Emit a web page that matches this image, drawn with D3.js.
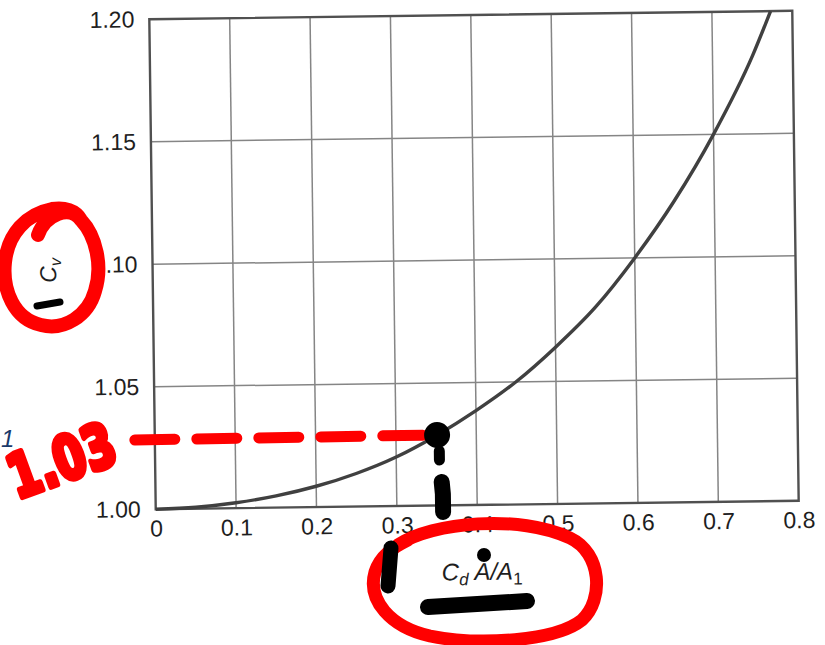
<!DOCTYPE html>
<html>
<head>
<meta charset="utf-8">
<script src="https://cdn.jsdelivr.net/npm/d3@7/dist/d3.min.js"></script>
<style>
  html, body { margin: 0; padding: 0; background: #fff; }
  svg { display: block; }
  .tick text { font-family: "Liberation Sans", Arial, sans-serif; }
</style>
</head>
<body>
<svg id="chart" width="825" height="645"></svg>
<script>
// Velocity-of-approach factor Cv versus area ratio Cd·A/A1
const ratio = [0, 0.05, 0.1, 0.15, 0.2, 0.25, 0.3, 0.35, 0.4, 0.45, 0.5, 0.55, 0.6, 0.65, 0.7, 0.75, 0.773];
const cv    = [1.000, 1.0006, 1.0022, 1.0048, 1.0085, 1.0135, 1.0200, 1.0285, 1.0385, 1.0500, 1.0640, 1.0800, 1.1000, 1.1230, 1.1500, 1.1820, 1.2000];
const xTicks = [0, 0.1, 0.2, 0.3, 0.4, 0.5, 0.6, 0.7, 0.8];
const xTickLabels = ["0", "0.1", "0.2", "0.3", "0.4", "0.5", "0.6", "0.7", "0.8"];
const yTicks = [1.00, 1.05, 1.10, 1.15, 1.20];
const yTickLabels = ["1.00", "1.05", "1.10", "1.15", "1.20"];
// marked reading on the curve
const readX = [0.35];
const readY = [1.03];
const readLabel = ["1.03"];

const svg = d3.select("#chart");
const plotL = 152.5, plotR = 795.5, plotT = 15, plotB = 505;
const cx = (plotL + plotR) / 2, cy = (plotT + plotB) / 2;

const x = d3.scaleLinear().domain([0, 0.8]).range([plotL, plotR]);
const y = d3.scaleLinear().domain([1.00, 1.20]).range([plotB, plotT]);

// the printed sheet sits slightly askew
const page = svg.append("g").attr("transform", `rotate(-0.75,${cx},${cy})`);

// grid
page.append("g").selectAll("line").data(xTicks.slice(1, -1)).join("line")
  .attr("x1", d => x(d)).attr("x2", d => x(d))
  .attr("y1", plotT).attr("y2", plotB)
  .attr("stroke", "#858585").attr("stroke-width", 1.5);
page.append("g").selectAll("line").data(yTicks.slice(1, -1)).join("line")
  .attr("x1", plotL).attr("x2", plotR)
  .attr("y1", d => y(d)).attr("y2", d => y(d))
  .attr("stroke", "#858585").attr("stroke-width", 1.5);

// frame
page.append("rect")
  .attr("x", plotL).attr("y", plotT)
  .attr("width", plotR - plotL).attr("height", plotB - plotT)
  .attr("fill", "none").attr("stroke", "#505050").attr("stroke-width", 2.4);

// axes (labels only)
const xAxis = page.append("g")
  .attr("transform", `translate(0,${plotB})`)
  .call(d3.axisBottom(x).tickValues(xTicks).tickSize(0).tickPadding(11)
    .tickFormat((d, i) => xTickLabels[i]));
xAxis.select(".domain").remove();
xAxis.selectAll("text").attr("font-size", 23).attr("fill", "#1e1e1e");

const yAxis = page.append("g")
  .attr("transform", `translate(${plotL},0)`)
  .call(d3.axisLeft(y).tickValues(yTicks).tickSize(0).tickPadding(15)
    .tickFormat((d, i) => yTickLabels[i]));
yAxis.select(".domain").remove();
yAxis.selectAll("text").attr("font-size", 23).attr("fill", "#1e1e1e");

// curve
const line = d3.line().x((d, i) => x(ratio[i])).y(d => y(d)).curve(d3.curveMonotoneX);
page.append("path")
  .datum(cv)
  .attr("d", line)
  .attr("fill", "none")
  .attr("stroke", "#404040")
  .attr("stroke-width", 3.4);

// axis titles
const fam = "'Liberation Sans', Arial, sans-serif";
const yt = page.append("text")
  .attr("transform", "translate(56,265) rotate(-90)")
  .attr("text-anchor", "middle")
  .attr("font-family", fam).attr("font-style", "italic")
  .attr("font-size", 23).attr("fill", "#1e1e1e");
yt.append("tspan").text("C");
yt.append("tspan").attr("font-size", 16).attr("dy", 5).text("v");

const xt = page.append("text")
  .attr("x", 478).attr("y", 580)
  .attr("text-anchor", "middle")
  .attr("font-family", fam).attr("font-style", "italic")
  .attr("font-size", 24).attr("fill", "#1e1e1e");
xt.append("tspan").text("C");
xt.append("tspan").attr("font-size", 17).attr("dy", 5).text("d");
xt.append("tspan").attr("dy", -5).text("  A/A");
xt.append("tspan").attr("font-size", 17).attr("dy", 5).attr("font-style", "normal").text("1");

// hand-drawn annotations
const penR = svg.append("g")
  .attr("fill", "none").attr("stroke", "#ff0000")
  .attr("stroke-linecap", "round").attr("stroke-linejoin", "round");
const penK = svg.append("g")
  .attr("fill", "none").attr("stroke", "#000")
  .attr("stroke-linecap", "round").attr("stroke-linejoin", "round");

// dashed guide from the axis to the reading (in chart coordinates)
const px = x(readX[0]), py = y(readY[0]);
page.append("line")
  .attr("x1", x(0) - 20).attr("x2", px - 6)
  .attr("y1", py + 4).attr("y2", py + 3)
  .attr("stroke", "#ff0000").attr("stroke-width", 11)
  .attr("stroke-linecap", "round")
  .attr("stroke-dasharray", "40,22");

// vertical dashes from the reading down to the axis
page.append("path")
  .attr("d", `M${px + 3},${py + 19} L${px + 3},${py + 28}`)
  .attr("fill", "none").attr("stroke", "#000").attr("stroke-width", 11)
  .attr("stroke-linecap", "round");
page.append("path")
  .attr("d", `M${px + 5},${py + 50} L${px + 6},${py + 62} L${px + 6},${py + 80}`)
  .attr("fill", "none").attr("stroke", "#000").attr("stroke-width", 16)
  .attr("stroke-linecap", "round").attr("stroke-linejoin", "round");

// reading point
page.append("circle")
  .attr("cx", px + 1).attr("cy", py + 3)
  .attr("r", 13).attr("fill", "#000");

// loop around the Cv label
penR.append("path")
  .attr("d", "M38,235 C45,215 70,204 81,220 C96,236 103,266 95,291 C88,316 64,331 41,325 C14,319 2,290 5,262 C8,234 26,214 52,209 C64,207 76,210 81,220")
  .attr("stroke-width", 14);
penK.append("path")
  .attr("d", "M37,306 L60,302")
  .attr("stroke-width", 7);

// loop around the ratio label
penR.append("path")
  .attr("d", "M398,545 C432,522 520,514 570,538 C602,553 604,600 582,620 C556,641 480,646 430,636 C390,627 367,600 375,572 C380,556 392,548 408,540")
  .attr("stroke-width", 13);

// marks near the ratio label
penK.append("path")
  .attr("d", "M391,548 L388,586")
  .attr("stroke-width", 15);
penK.append("circle")
  .attr("cx", 484).attr("cy", 555).attr("r", 7).attr("fill", "#000").attr("stroke", "none");
penK.append("path")
  .attr("d", "M428,607 L527,601")
  .attr("stroke-width", 16);

// handwritten reading value
svg.append("text")
  .attr("transform", "translate(17,499) rotate(-20)")
  .attr("font-family", "'DejaVu Sans', sans-serif")
  .attr("font-weight", "bold")
  .attr("font-size", 60)
  .attr("textLength", 110).attr("lengthAdjust", "spacingAndGlyphs")
  .attr("fill", "#ff0000")
  .attr("stroke", "#ff0000").attr("stroke-width", 6)
  .attr("stroke-linejoin", "round")
  .text(readLabel[0]);

svg.append("text")
  .attr("x", 1).attr("y", 447)
  .attr("font-family", fam).attr("font-style", "italic")
  .attr("font-size", 24).attr("fill", "#1a3a6a")
  .text("1");
</script>
</body>
</html>
